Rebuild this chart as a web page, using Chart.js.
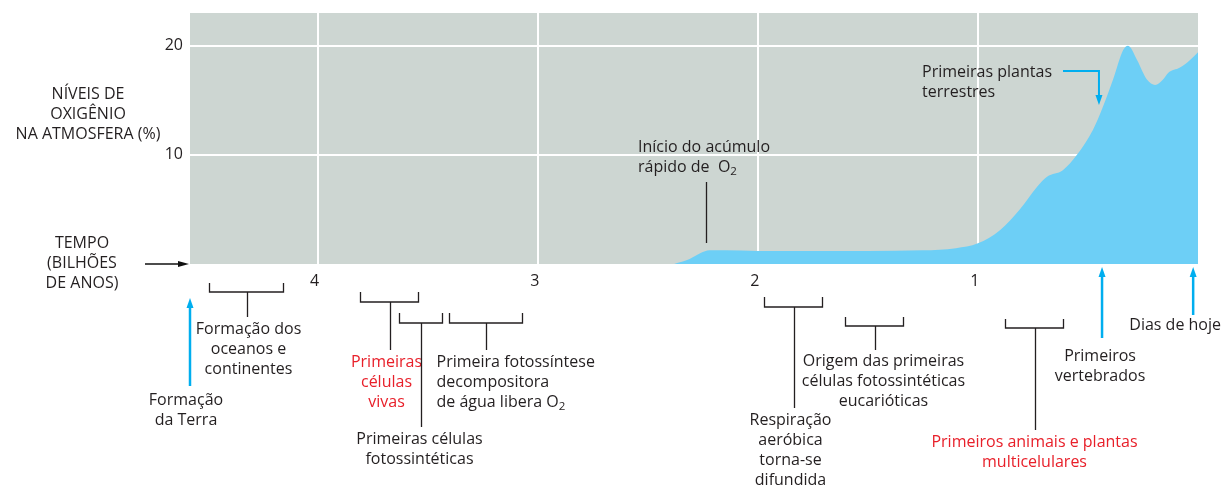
<!DOCTYPE html>
<html><head><meta charset="utf-8">
<script src="https://cdn.jsdelivr.net/npm/chart.js@4/dist/chart.umd.min.js"></script>
<style>html,body{margin:0;padding:0;background:#fff;overflow:hidden}#wrap{position:relative;width:1225px;height:486px}</style>
</head><body><div id="wrap"><canvas id="c" width="1225" height="486"></canvas></div>
<script>
// ---- data ----
const timeGyr   = [2.38, 2.31, 2.26, 2.22, 2.15, 2.0, 1.8, 1.5, 1.25, 1.1, 1.0, 0.9, 0.81, 0.73, 0.686, 0.614, 0.55, 0.477, 0.432, 0.386, 0.34, 0.318, 0.277, 0.232, 0.195, 0.159, 0.136, 0.082, 0.036, 0.0];
const oxygenPct = [0.0, 0.45, 1.0, 1.25, 1.25, 1.2, 1.2, 1.2, 1.25, 1.45, 1.9, 3.1, 5.0, 7.1, 8.0, 8.6, 10.0, 12.3, 14.4, 16.9, 19.6, 20.0, 18.7, 16.9, 16.4, 16.9, 17.5, 18.0, 18.7, 19.4];
const xTickValues = [4, 3, 2, 1];
const yTickValues = [10, 20];
const timeMax = 4.58;
const oxyMax = 23;

// event brackets (time ranges, billions of years ago)
const bracketFrom  = [4.495, 3.809, 3.632, 3.405, 1.973, 1.605, 0.877];
const bracketTo    = [4.159, 3.545, 3.436, 3.073, 1.709, 1.341, 0.614];
const bracketTexts = [
  ["Formação dos", "oceanos e", "continentes"],
  ["Primeiras", "células", "vivas"],
  ["Primeiras células", "fotossintéticas"],
  ["Primeira fotossíntese", "decompositora", "de água libera O{2}"],
  ["Respiração", "aeróbica", "torna-se", "difundida"],
  ["Origem das primeiras", "células fotossintéticas", "eucarióticas"],
  ["Primeiros animais e plantas", "multicelulares"]
];
// point events
const arrowTimes = [4.58, 0.436, 0.022];
const arrowTexts = [["Formação", "da Terra"], ["Primeiros", "vertebrados"], ["Dias de hoje"]];
const o2StartTime = 2.236;
const landPlantsTime = 0.45;

// ---- styles / layout ----
const TXT = '#231f20', RED = '#e8202a', BLUE = '#00aeef';
const FONT = '"Open Sans", "Noto Sans", sans-serif';
const FS = 16;
const bracketLayout = [
  {bar:292, top:283, stem:317, dx:1,  y:329, align:'center', color:TXT},
  {bar:302, top:292, stem:350, dx:-4, y:362, align:'center', color:RED},
  {bar:323, top:313, stem:427, dx:-2, y:439, align:'center', color:TXT},
  {bar:323, top:313, stem:350, dx:-50,y:362, align:'left',   color:TXT},
  {bar:307, top:297, stem:408, dx:-4, y:420, align:'center', color:TXT},
  {bar:326, top:317, stem:350, dx:8,  y:361, align:'center', color:TXT},
  {bar:328, top:319, stem:430, dx:-1, y:442, align:'center', color:RED}
];
const LH = 20.3;

function drawRich(ctx, str, x, y, align, color) {
  const parts = str.split(/\{(\d)\}/);
  const segs = parts.map((p, i) => ({t: p, sub: i % 2 === 1}));
  const fontN = FS + 'px ' + FONT, fontS = (FS * 0.72) + 'px ' + FONT;
  let w = 0;
  segs.forEach(s => { ctx.font = s.sub ? fontS : fontN; s.w = ctx.measureText(s.t).width; w += s.w; });
  let cx = align === 'center' ? x - w / 2 : (align === 'right' ? x - w : x);
  ctx.fillStyle = color; ctx.textAlign = 'left'; ctx.textBaseline = 'middle';
  segs.forEach(s => { ctx.font = s.sub ? fontS : fontN; ctx.fillText(s.t, cx, s.sub ? y + 4 : y); cx += s.w; });
}
function drawLines(ctx, lines, x, y, align, color) {
  lines.forEach((l, i) => drawRich(ctx, l, x, y + i * LH, align, color));
}
function arrowUp(ctx, x, yTip, yBottom, color, lw) {
  ctx.strokeStyle = color; ctx.fillStyle = color; ctx.lineWidth = lw;
  ctx.beginPath(); ctx.moveTo(x, yBottom); ctx.lineTo(x, yTip + 8); ctx.stroke();
  ctx.beginPath(); ctx.moveTo(x, yTip); ctx.lineTo(x - 3.5, yTip + 10); ctx.lineTo(x + 3.5, yTip + 10); ctx.closePath(); ctx.fill();
}

const bgPlugin = {
  id: 'bg',
  beforeDraw(chart) {
    const a = chart.chartArea, ctx = chart.ctx;
    ctx.save(); ctx.fillStyle = '#cdd6d2'; ctx.fillRect(a.left, a.top, a.right - a.left, a.bottom - a.top); ctx.restore();
  }
};
const annPlugin = {
  id: 'ann',
  afterDraw(chart) {
    const ctx = chart.ctx, xs = chart.scales.x, ys = chart.scales.y;
    const px = t => xs.getPixelForValue(t);
    ctx.save();
    bracketFrom.forEach((f, i) => {
      const L = bracketLayout[i];
      const x1 = Math.round(px(f)) + 0.5, x2 = Math.round(px(bracketTo[i])) + 0.5, xm = Math.round((x1 + x2) / 2) + 0.5;
      ctx.strokeStyle = TXT; ctx.lineWidth = 1.3;
      ctx.beginPath();
      ctx.moveTo(x1, L.top); ctx.lineTo(x1, L.bar); ctx.lineTo(x2, L.bar); ctx.lineTo(x2, L.top);
      ctx.moveTo(xm, L.bar); ctx.lineTo(xm, L.stem);
      ctx.stroke();
      drawLines(ctx, bracketTexts[i], xm + L.dx, L.y, L.align, L.color);
    });
    const arrowLayout = [{tip:298, bottom:386, dx:-4, y:400}, {tip:267, bottom:338, dx:-2, y:356}, {tip:267, bottom:315, dx:-18, y:325}];
    arrowTimes.forEach((t, i) => {
      const L = arrowLayout[i], x = px(t);
      arrowUp(ctx, x, L.tip, L.bottom, BLUE, 2.5);
      drawLines(ctx, arrowTexts[i], x + L.dx, L.y, 'center', TXT);
    });
    const xo = Math.round(px(o2StartTime)) + 0.5;
    ctx.strokeStyle = TXT; ctx.lineWidth = 1.3;
    ctx.beginPath(); ctx.moveTo(xo, 182); ctx.lineTo(xo, 243); ctx.stroke();
    drawLines(ctx, ["Início do acúmulo", "rápido de  O{2}"], 638, 147, 'left', TXT);
    const xp = px(landPlantsTime);
    ctx.strokeStyle = BLUE; ctx.fillStyle = BLUE; ctx.lineWidth = 2;
    ctx.beginPath(); ctx.moveTo(1063, 71); ctx.lineTo(xp, 71); ctx.lineTo(xp, 96); ctx.stroke();
    ctx.beginPath(); ctx.moveTo(xp, 105); ctx.lineTo(xp - 3.5, 95); ctx.lineTo(xp + 3.5, 95); ctx.closePath(); ctx.fill();
    drawLines(ctx, ["Primeiras plantas", "terrestres"], 922, 72, 'left', TXT);
    drawLines(ctx, ["NÍVEIS DE", "OXIGÊNIO", "NA ATMOSFERA (%)"], 88, 94, 'center', TXT);
    drawLines(ctx, ["TEMPO", "(BILHÕES", "DE ANOS)"], 82, 243, 'center', TXT);
    const yb = ys.getPixelForValue(0);
    ctx.strokeStyle = '#111'; ctx.fillStyle = '#111'; ctx.lineWidth = 1.6;
    ctx.beginPath(); ctx.moveTo(145, yb); ctx.lineTo(180, yb); ctx.stroke();
    ctx.beginPath(); ctx.moveTo(189, yb); ctx.lineTo(178, yb - 3); ctx.lineTo(178, yb + 3); ctx.closePath(); ctx.fill();
    ctx.restore();
  }
};

new Chart(document.getElementById('c'), {
  type: 'line',
  data: {
    datasets: [{
      data: timeGyr.map((t, i) => ({x: t, y: oxygenPct[i]})),
      fill: 'origin',
      backgroundColor: '#6dcff6',
      borderWidth: 0,
      borderColor: 'rgba(0,0,0,0)',
      pointRadius: 0,
      cubicInterpolationMode: 'monotone'
    }]
  },
  options: {
    responsive: false,
    devicePixelRatio: 1,
    animation: false,
    layout: {padding: {top: 13, right: 27, left: 0, bottom: 0}},
    plugins: {legend: {display: false}, tooltip: {enabled: false}},
    scales: {
      x: {
        type: 'linear', reverse: true, min: 0, max: timeMax,
        afterFit: s => { s.height = 222; s.paddingLeft = 0; s.paddingRight = 0; },
        afterBuildTicks: s => { s.ticks = [0].concat(xTickValues.slice().reverse()).map(v => ({value: v})); },
        grid: {color: c => (c.tick && c.tick.value === 0) ? 'rgba(0,0,0,0)' : '#ffffff', lineWidth: 2, drawTicks: false, tickLength: 0},
        border: {display: false},
        ticks: {callback: v => v === 0 ? '' : String(v), color: TXT, font: {family: FONT, size: FS}, padding: 8, labelOffset: -3, maxRotation: 0, autoSkip: false}
      },
      y: {
        min: 0, max: oxyMax,
        afterFit: s => { s.width = 190; s.paddingTop = 0; s.paddingBottom = 0; },
        afterBuildTicks: s => { s.ticks = [0].concat(yTickValues).map(v => ({value: v})); },
        grid: {color: c => (c.tick && c.tick.value === 0) ? 'rgba(0,0,0,0)' : '#ffffff', lineWidth: 2, drawTicks: false, tickLength: 0},
        border: {display: false},
        ticks: {callback: v => v === 0 ? '' : String(v), color: TXT, font: {family: FONT, size: FS}, padding: 7}
      }
    }
  },
  plugins: [bgPlugin, annPlugin]
});
</script></body></html>
